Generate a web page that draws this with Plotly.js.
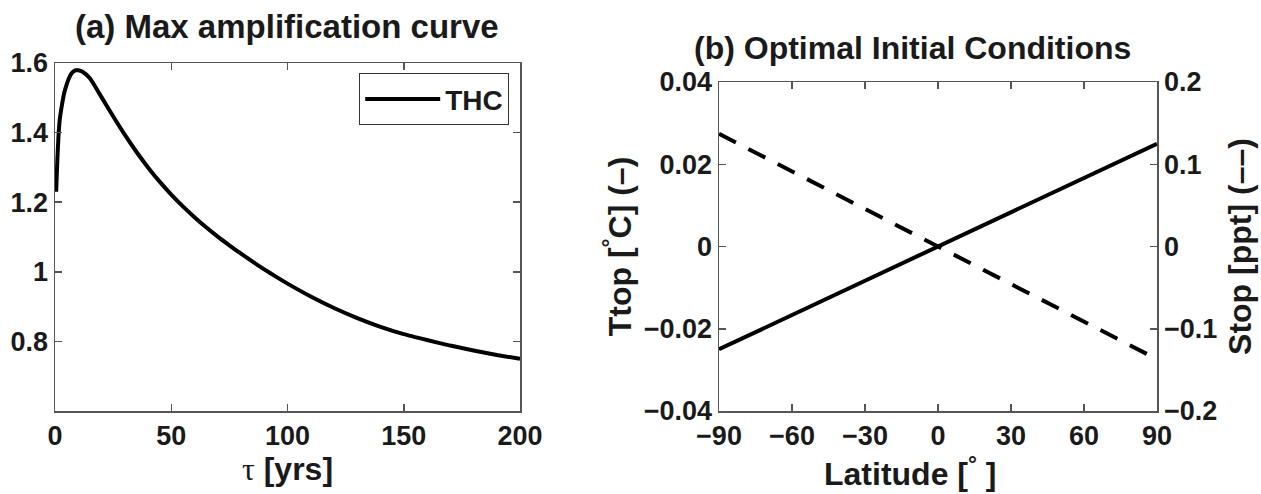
<!DOCTYPE html>
<html>
<head>
<meta charset="utf-8">
<script src="https://cdn.plot.ly/plotly-3.0.1.min.js"></script>
<style>html,body{margin:0;padding:0;background:#fff;}#chart{width:1261px;height:494px;}</style>
</head>
<body>
<div id="chart"></div>
<script>
// Panel (a): max amplification curve
const tauYears = [0.5, 1, 1.5, 2, 3, 4, 5, 6, 7, 8, 9, 10, 12, 15, 20, 25, 30, 35, 40, 45, 50, 55, 60, 65, 70, 75, 80, 85, 90, 95, 100, 110, 120, 130, 140, 150, 160, 170, 180, 190, 200];
const thcAmplification = [1.23, 1.32, 1.39, 1.435, 1.48, 1.515, 1.538, 1.556, 1.569, 1.576, 1.579, 1.579, 1.574, 1.556, 1.502, 1.447, 1.394, 1.345, 1.300, 1.259, 1.222, 1.188, 1.157, 1.128, 1.101, 1.076, 1.052, 1.029, 1.007, 0.986, 0.966, 0.929, 0.896, 0.867, 0.842, 0.821, 0.804, 0.788, 0.774, 0.761, 0.750];

// Panel (b): optimal initial conditions
const latitude = [-90, -60, -30, 0, 30, 60, 90];
const tTop = [-0.025, -0.0167, -0.0083, 0, 0.0083, 0.0167, 0.025];
const sTop = [0.137, 0.0913, 0.0457, 0, -0.0457, -0.0913, -0.137];

const xTicksA = [0, 50, 100, 150, 200];
const yTicksA = [0.8, 1, 1.2, 1.4, 1.6];
const xTicksB = [-90, -60, -30, 0, 30, 60, 90];
const yTicksB = [-0.04, -0.02, 0, 0.02, 0.04];
const y2TicksB = [-0.2, -0.1, 0, 0.1, 0.2];

const FONT = '"Liberation Sans", Arial, sans-serif';
const INK = '#1a1a1a';
const tickFont = {family: FONT, size: 27, color: INK, weight: 'bold'};
const labelFont = {family: FONT, size: 32, weight: 'bold', color: INK};
const axisBase = {
  showline: true, linecolor: '#555', linewidth: 1.5,
  ticks: 'inside', ticklen: 7, tickcolor: '#555', tickwidth: 1.5,
  showgrid: false, zeroline: false, tickfont: tickFont
};

const traces = [
  {x: tauYears, y: thcAmplification, type: 'scatter', mode: 'lines', name: 'THC',
   line: {color: '#000', width: 4, shape: 'spline', smoothing: 0.5}, xaxis: 'x', yaxis: 'y', showlegend: true},
  {x: latitude, y: tTop, type: 'scatter', mode: 'lines', name: 'Ttop',
   line: {color: '#000', width: 4}, xaxis: 'x2', yaxis: 'y2', showlegend: false},
  {x: latitude, y: sTop, type: 'scatter', mode: 'lines', name: 'Stop',
   line: {color: '#000', width: 4, dash: '19px,14px'}, xaxis: 'x2', yaxis: 'y3', showlegend: false}
];

const layout = {
  width: 1261, height: 494,
  margin: {l: 0, r: 0, t: 0, b: 0},
  paper_bgcolor: '#fff', plot_bgcolor: '#fff',
  font: {family: FONT, color: INK},
  xaxis: Object.assign({}, axisBase, {
    domain: [55/1261, 520/1261], range: [0, 200], tickvals: xTicksA, mirror: 'ticks',
    anchor: 'y',
    title: {text: '<span style="font-family:\'Liberation Serif\';font-weight:normal">τ</span> [yrs]', font: labelFont, standoff: 4}
  }),
  yaxis: Object.assign({}, axisBase, {
    domain: [83/494, 431/494], range: [0.6, 1.6], tickvals: yTicksA, mirror: 'ticks', anchor: 'x'
  }),
  xaxis2: Object.assign({}, axisBase, {
    domain: [719/1261, 1157/1261], range: [-90, 90], tickvals: xTicksB, mirror: 'ticks',
    anchor: 'y2'
  }),
  yaxis2: Object.assign({}, axisBase, {
    domain: [83/494, 412/494], range: [-0.04, 0.04], tickvals: yTicksB, anchor: 'x2',
    title: {text: 'Ttop [<sup>°</sup>C] (–)', font: labelFont, standoff: 2}
  }),
  yaxis3: Object.assign({}, axisBase, {
    range: [-0.2, 0.2], tickvals: y2TicksB, overlaying: 'y2', side: 'right', anchor: 'x2',
    title: {text: 'Stop [ppt] (––)', font: labelFont, standoff: 12}
  }),
  showlegend: true,
  legend: {
    x: 509/1261, xanchor: 'right', y: (494-73)/494, yanchor: 'top',
    bgcolor: '#fff', bordercolor: '#333', borderwidth: 1.2,
    font: {family: FONT, size: 28, weight: 'bold', color: INK},
    itemwidth: 75
  },
  annotations: [
    {text: '(a) Max amplification curve', xref: 'paper', yref: 'paper',
     x: 287/1261, y: (494-26)/494, xanchor: 'center', yanchor: 'middle', showarrow: false,
     font: {family: FONT, size: 33, weight: 'bold', color: INK}},
    {text: '(b) Optimal Initial Conditions', xref: 'paper', yref: 'paper',
     x: 912/1261, y: (494-48)/494, xanchor: 'center', yanchor: 'middle', showarrow: false,
     font: {family: FONT, size: 32, weight: 'bold', color: INK}},
    {text: 'Latitude [<sup>°</sup> ]', xref: 'paper', yref: 'paper',
     x: 910/1261, y: (494-472)/494, xanchor: 'center', yanchor: 'middle', showarrow: false,
     font: labelFont}
  ]
};

Plotly.newPlot('chart', traces, layout, {staticPlot: true, displayModeBar: false});
</script>
</body>
</html>
